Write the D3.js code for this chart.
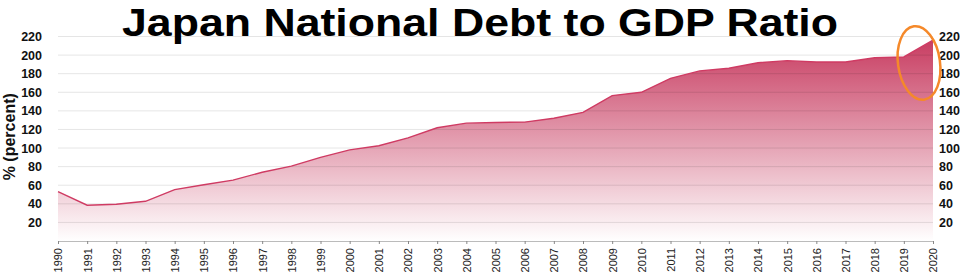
<!DOCTYPE html>
<html lang="en">
<head>
<meta charset="UTF-8">
<title>Japan National Debt to GDP Ratio</title>
<script src="https://cdn.jsdelivr.net/npm/d3@7"></script>
<style>
    body { margin: 0; background: #fff; font-family: "Liberation Sans", Arial, sans-serif; }
    svg { display: block; }
    .grid line { stroke: rgba(0,0,0,0.1); }
    .yaxis text { font-size: 12.5px; font-weight: bold; fill: #111; }
    .xaxis text { font-size: 11px; fill: #222; }
</style>
</head>
<body>
<svg width="960" height="278"></svg>
<script>
    const years = d3.range(1990, 2021);
    const debt = [53, 38.5, 39.5, 42.7, 55.3, 60.5, 65.5, 74, 80.5, 90, 98, 102.5, 111, 121.8, 126.8,
                  127.5, 127.9, 132, 138.4, 156.4, 160, 175, 183, 185.8, 191.8, 194, 192.5, 192.6, 197.2, 198, 216];
    const yTicks = [20, 40, 60, 80, 100, 120, 140, 160, 180, 200, 220];

    const data = years.map((y, i) => ({ year: y, value: debt[i] }));

    const margin = { left: 58, right: 27, top: 36.5, bottom: 37 };
    const W = 960, H = 278;
    const svg = d3.select("svg");

    const x = d3.scaleLinear().domain([1990, 2020]).range([margin.left, W - margin.right]);
    const y = d3.scaleLinear().domain([0, 220]).range([H - margin.bottom, margin.top]);

    // gradient fill, dark at the top of the plot fading to white
    const grad = svg.append("defs").append("linearGradient")
        .attr("id", "fillGrad")
        .attr("gradientUnits", "userSpaceOnUse")
        .attr("x1", 0).attr("x2", 0)
        .attr("y1", y(220)).attr("y2", y(0));
    grad.append("stop").attr("offset", "0%").attr("stop-color", "#c73a5f");
    grad.append("stop").attr("offset", "100%").attr("stop-color", "#ffffff");

    const area = d3.area()
        .x(d => x(d.year))
        .y0(y(0))
        .y1(d => y(d.value));

    svg.append("path")
        .datum(data)
        .attr("d", area)
        .attr("fill", "url(#fillGrad)");

    // gridlines
    svg.append("g").attr("class", "grid")
        .selectAll("line")
        .data(yTicks)
        .join("line")
        .attr("x1", x(1990)).attr("x2", x(2020))
        .attr("y1", d => y(d)).attr("y2", d => y(d));

    const line = d3.line()
        .x(d => x(d.year))
        .y(d => y(d.value));

    svg.append("path")
        .datum(data)
        .attr("d", line)
        .attr("fill", "none")
        .attr("stroke", "#cf3b63")
        .attr("stroke-width", 1.4);

    // x axis
    const xAxis = svg.append("g")
        .attr("class", "xaxis")
        .attr("transform", `translate(0,${y(0)})`)
        .call(d3.axisBottom(x).tickValues(years).tickFormat(d3.format("d")).tickSize(3));
    xAxis.select(".domain").attr("stroke", "#bbb");
    xAxis.selectAll(".tick line").attr("stroke", "#888");
    xAxis.selectAll("text")
        .attr("transform", "rotate(-90)")
        .attr("x", -7)
        .attr("y", 0)
        .attr("dy", "0.35em")
        .style("text-anchor", "end");

    // y axes, both sides
    const yl = svg.append("g")
        .attr("class", "yaxis")
        .attr("transform", `translate(${margin.left - 13},0)`)
        .call(d3.axisLeft(y).tickValues(yTicks).tickSize(0));
    yl.select(".domain").remove();

    const yr = svg.append("g")
        .attr("class", "yaxis")
        .attr("transform", `translate(${W - margin.right + 3},0)`)
        .call(d3.axisRight(y).tickValues(yTicks).tickSize(0));
    yr.select(".domain").remove();

    svg.append("text")
        .attr("transform", `translate(15,${(y(0) + y(220)) / 2 - 2}) rotate(-90)`)
        .attr("text-anchor", "middle")
        .attr("font-size", "16px")
        .attr("font-weight", "bold")
        .attr("fill", "#111")
        .text("% (percent)");

    // title
    svg.append("text")
        .attr("x", 480)
        .attr("y", 35.5)
        .attr("text-anchor", "middle")
        .attr("font-size", "39px")
        .attr("font-weight", "bold")
        .attr("fill", "#000")
        .attr("textLength", 716)
        .attr("lengthAdjust", "spacingAndGlyphs")
        .text("Japan National Debt to GDP Ratio");

    // highlight ellipse around the last year
    svg.append("ellipse")
        .attr("cx", 919).attr("cy", 63)
        .attr("rx", 21).attr("ry", 37)
        .attr("fill", "none")
        .attr("stroke", "#f5892a")
        .attr("stroke-width", 2.5)
        .attr("transform", "rotate(-8,919,63)");
</script>
</body>
</html>
